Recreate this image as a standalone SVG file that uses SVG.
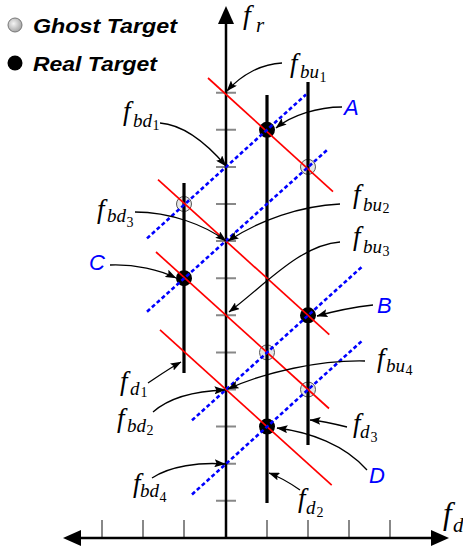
<svg xmlns="http://www.w3.org/2000/svg" width="463" height="548" viewBox="0 0 463 548">
<style>
.tick{stroke:#888;stroke-width:2}
.axis{stroke:#000;stroke-width:2.5;fill:none}
.vl{stroke:#000;stroke-width:3.2;fill:none}
.red{stroke:#ff0000;stroke-width:1.7;fill:none}
.blue{stroke:#0000ff;stroke-width:2.6;stroke-dasharray:4 2.6;fill:none}
.real{fill:#000}
.ghost{fill:#dcdcdc;fill-opacity:0.7;stroke:#555;stroke-width:1}
.con{stroke:#000;stroke-width:1.3;fill:none;marker-end:url(#ah)}
.m{font-family:"Liberation Serif","Times New Roman",serif;font-style:italic;font-size:27px;fill:#000}
.s{font-size:19px}
.ss{font-size:14px;font-style:normal}
.lbl{font-family:"Liberation Sans",Arial,sans-serif;font-style:italic;font-size:22px;fill:#0000ff}
.leg{font-family:"Liberation Sans",Arial,sans-serif;font-style:italic;font-weight:bold;font-size:21px;fill:#000}
</style>
<defs>
<marker id="ah" markerUnits="userSpaceOnUse" markerWidth="11" markerHeight="8" viewBox="0 0 11 8" refX="10.5" refY="4" orient="auto">
<path d="M0,0 L11,4 L0,8 L2,4 z" fill="#000"/>
</marker>
<radialGradient id="gg" cx="0.4" cy="0.4" r="0.7">
<stop offset="0" stop-color="#f4f4f4"/>
<stop offset="1" stop-color="#9a9a9a"/>
</radialGradient>
</defs>

<g id="legend">
<circle cx="15" cy="25" r="7" fill="url(#gg)" stroke="#777" stroke-width="1"/>
<text class="leg" x="33" y="33" textLength="144" lengthAdjust="spacingAndGlyphs">Ghost Target</text>
<circle cx="15" cy="63" r="7.5" fill="#000"/>
<text class="leg" x="33" y="70.5" textLength="124" lengthAdjust="spacingAndGlyphs">Real Target</text>
</g>

<g id="ticks">
<path class="tick" d="M216,92.7H236M216,129.8H236M216,166.9H236M216,204H236M216,241.1H236M216,278.2H236M216,315.3H236M216,352.4H236M216,389.5H236M216,426.6H236M216,463.7H236M216,500.8H236"/>
<path class="tick" d="M102,520V538M143,520V538M184,520V538M267,520V538M308,520V538M349,520V538M390,520V538"/>
</g>

<g id="axes">
<path class="axis" d="M226,20V538"/>
<path d="M226,6 L234,24 L218,24 z" fill="#000"/>
<path class="axis" d="M78,538H434"/>
<path d="M63,538 L81,530 L81,546 z" fill="#000"/>
<path d="M449,538 L431,530 L431,546 z" fill="#000"/>
<text class="m" x="243" y="24" style="font-size:28px">f</text>
<text class="m" x="256" y="32" style="font-size:21px">r</text>
<text class="m" x="443" y="524" style="font-size:31px">f</text>
<text class="m" x="453" y="532" style="font-size:21px">d</text>
</g>

<g id="targets">
<circle id="A" class="real" cx="267" cy="129.8" r="8"/>
<circle id="B" class="real" cx="308" cy="315.3" r="8"/>
<circle id="C" class="real" cx="184" cy="278.2" r="8"/>
<circle id="D" class="real" cx="267" cy="426.6" r="8"/>
<circle id="g1" class="ghost" cx="308" cy="166.9" r="7.5"/>
<circle id="g2" class="ghost" cx="184" cy="204" r="7.5"/>
<circle id="g3" class="ghost" cx="267" cy="352.4" r="7.5"/>
<circle id="g4" class="ghost" cx="308" cy="389.5" r="7.5"/>
</g>

<g id="fd-lines">
<path id="fd1" class="vl" d="M184,183V373"/>
<path id="fd2" class="vl" d="M267,95V503"/>
<path id="fd3" class="vl" d="M308,82V445"/>
</g>

<g id="red-lines">
<path class="red" d="M208,78 L333,191.7"/>
<path class="red" d="M158,179.6 L329.3,334.6"/>
<path class="red" d="M156,252 L329,408.5"/>
<path class="red" d="M160,329.8 L331.7,485.1"/>
</g>

<g id="blue-lines">
<path class="blue" d="M147,238.4 L306,94.5"/>
<path class="blue" d="M147,311.7 L327,150.1"/>
<path class="blue" d="M192,420.3 L362,266.7"/>
<path class="blue" d="M192,494.5 L362,340.9"/>
</g>

<g id="connectors">
<path class="con" d="M282,63 C262,64 242,74 227,91"/>
<path class="con" d="M342,107 C318,107 292,115 276,128"/>
<path class="con" d="M160,123 C185,125 208,145 226,166"/>
<path class="con" d="M340,204 C300,206 260,220 228,241"/>
<path class="con" d="M135,212 C170,212 205,225 226,241"/>
<path class="con" d="M340,242 C300,245 265,285 229,312"/>
<path class="con" d="M110,265 C135,264 160,270 176,278"/>
<path class="con" d="M373,305 C355,307 335,311 317,316"/>
<path class="con" d="M148,383 C160,375 170,368 181,362"/>
<path class="con" d="M153,412 C170,397 195,391 225,390"/>
<path class="con" d="M365,361 C320,360 265,372 228,389"/>
<path class="con" d="M152,478 C170,466 200,462 225,464"/>
<path class="con" d="M347,427 C335,424 322,421 310,420"/>
<path class="con" d="M367,470 C345,445 310,432 277,428"/>
<path class="con" d="M300,490 C290,483 280,477 269,473"/>
</g>

<g id="labels">
<text class="m" x="290" y="72">f<tspan class="s" x="300" y="78">bu</tspan><tspan class="ss" x="319.5" y="82">1</tspan></text>
<text class="m" x="123" y="120">f<tspan class="s" x="133" y="127">bd</tspan><tspan class="ss" x="152.5" y="130">1</tspan></text>
<text class="m" x="353" y="203">f<tspan class="s" x="363" y="211">bu</tspan><tspan class="ss" x="382.5" y="213">2</tspan></text>
<text class="m" x="97" y="218">f<tspan class="s" x="107" y="222">bd</tspan><tspan class="ss" x="126.5" y="227">3</tspan></text>
<text class="m" x="353" y="245">f<tspan class="s" x="363" y="253">bu</tspan><tspan class="ss" x="382.5" y="256">3</tspan></text>
<text class="m" x="377" y="367">f<tspan class="s" x="386" y="372">bu</tspan><tspan class="ss" x="405.5" y="375">4</tspan></text>
<text class="m" x="120" y="390">f<tspan class="s" x="130" y="395">d</tspan><tspan class="ss" x="140.5" y="397">1</tspan></text>
<text class="m" x="117" y="427">f<tspan class="s" x="127" y="432">bd</tspan><tspan class="ss" x="146.5" y="435">2</tspan></text>
<text class="m" x="353" y="432">f<tspan class="s" x="360" y="438">d</tspan><tspan class="ss" x="370.5" y="442">3</tspan></text>
<text class="m" x="133" y="492">f<tspan class="s" x="140" y="497">bd</tspan><tspan class="ss" x="159.5" y="502">4</tspan></text>
<text class="m" x="298" y="507">f<tspan class="s" x="306" y="514">d</tspan><tspan class="ss" x="316.5" y="517">2</tspan></text>
<text class="lbl" x="344" y="115">A</text>
<text class="lbl" x="377" y="313">B</text>
<text class="lbl" x="89" y="270">C</text>
<text class="lbl" x="369" y="483">D</text>
</g>
</svg>
